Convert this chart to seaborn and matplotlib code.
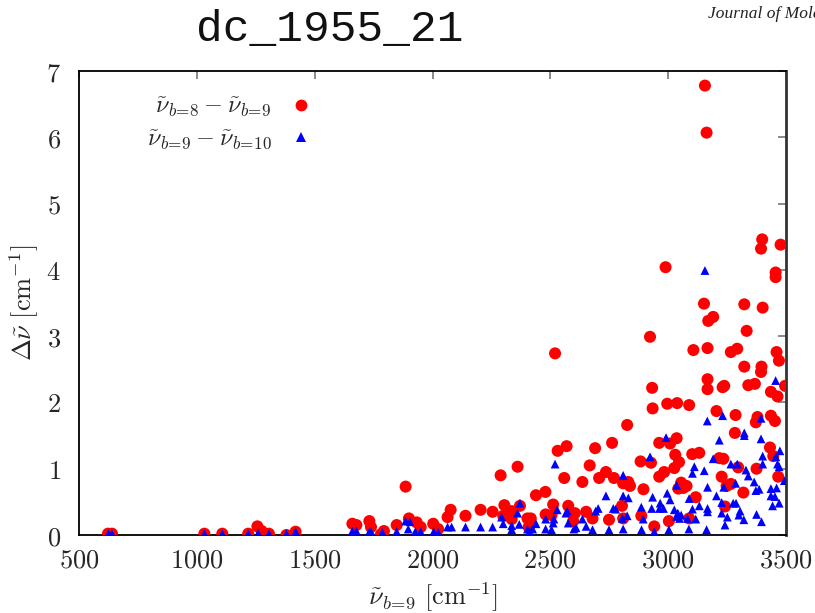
import numpy as np
import pandas as pd
import matplotlib
matplotlib.use("Agg")
import matplotlib.pyplot as plt
import seaborn as sns
from matplotlib.ticker import FuncFormatter
from matplotlib.lines import Line2D

# ---- data ----
red_x = [623, 640, 1032, 1108, 1218, 1257, 1275, 1306, 1380, 1419,
         1660, 1677, 1732, 1739, 1781, 1794, 1848, 1886, 1900, 1933, 1950, 2003, 2024, 2064, 2077,
         2140, 2204, 2255, 2289,
         2300, 2336, 2336, 2361, 2371, 2305, 2403, 2417, 2413, 2408, 2439, 2479, 2480, 2505, 2512,
         2520, 2531, 2559, 2569, 2576, 2597, 2604, 2636, 2652, 2667, 2679, 2690, 2707, 2736, 2749,
         2762, 2770, 2804, 2809, 2809, 2826, 2831, 2838, 2883, 2886, 2895, 2923, 2927, 2932, 2934,
         2941, 2962, 2962, 2983, 2989, 2996, 3003, 3008, 3026, 3030, 3036, 3038, 3043, 3046, 3055,
         3064, 3078, 3089, 3089, 3102, 3107, 3117, 3132, 3152, 3156, 3163, 3167, 3167, 3167, 3170,
         3191, 3205, 3217, 3227, 3231, 3234, 3238, 3241, 3248, 3266, 3266, 3283, 3286, 3293, 3297,
         3319, 3323, 3323, 3333, 3340, 3368, 3372, 3375, 3379, 3394, 3396, 3394, 3399, 3401, 3432,
         3436, 3436, 3446, 3453, 3456, 3456, 3460, 3464, 3467, 3470, 3477, 3496]
red_y = [0.02, 0.02, 0.02, 0.02, 0.02, 0.13, 0.06, 0.02, 0.0, 0.05,
         0.17, 0.15, 0.21, 0.12, 0.01, 0.06, 0.15, 0.73, 0.25, 0.19, 0.12, 0.17, 0.09, 0.27, 0.38,
         0.29, 0.38, 0.35, 0.9,
         0.29, 0.36, 0.24, 1.03, 0.44, 0.45, 0.25, 0.25, 0.2, 0.12, 0.6, 0.65, 0.31, 0.3, 0.46,
         2.74, 1.27, 0.86, 1.34, 0.44, 0.21, 0.33, 0.8, 0.35, 1.05, 0.25, 1.31, 0.86, 0.95, 0.23,
         1.39, 0.86, 0.44, 0.78, 0.25, 1.66, 0.8, 0.74, 1.11, 0.29, 0.69, 2.99, 1.09, 2.22, 1.91,
         0.13, 1.39, 0.88, 0.95, 4.04, 1.98, 0.21, 1.38, 1.01, 1.21, 1.46, 1.99, 0.7, 1.1, 0.79,
         0.71, 0.74, 1.96, 0.25, 1.22, 2.79, 0.57, 1.24, 3.49, 6.78, 6.07, 2.82, 2.35, 2.2, 3.23,
         3.29, 1.87, 1.16, 0.88, 2.23, 1.15, 2.25, 0.43, 0.74, 2.76, 0.77, 1.54, 1.81, 2.81, 1.02,
         0.64, 3.48, 2.54, 3.08, 2.26, 2.28, 1.7, 1.0, 1.78, 4.32, 2.54, 2.46, 4.46, 3.43, 1.32,
         2.16, 1.8, 1.19, 1.72, 3.96, 3.89, 2.76, 2.09, 0.88, 2.63, 4.38, 2.25]

blue_x = [625, 640, 1032, 1108, 1218, 1260, 1306, 1380, 1419,
          1660, 1677, 1732, 1739, 1787, 1848, 1886, 1904, 1897, 1927, 1950, 2005, 2024, 2064, 2081,
          2140, 2204, 2255,
          2293, 2300, 2336, 2336, 2361, 2368, 2371, 2403, 2411, 2425, 2439, 2480, 2480, 2505, 2512,
          2515, 2520, 2529, 2566, 2572, 2576, 2600, 2609, 2636, 2652, 2679, 2692, 2703, 2736, 2749,
          2767, 2777, 2805, 2809, 2809, 2809, 2826, 2831, 2886, 2894, 2887, 2923, 2934, 2930, 2941,
          2963, 2966, 2980, 2991, 2996, 3003, 3008, 3026, 3036, 3036, 3041, 3048, 3055, 3082, 3088,
          3089, 3103, 3103, 3111, 3117, 3132, 3153, 3156, 3163, 3166, 3167, 3167, 3167, 3191, 3205,
          3217, 3227, 3227, 3231, 3236, 3241, 3251, 3266, 3276, 3286, 3288, 3293, 3300, 3305, 3321,
          3323, 3323, 3330, 3340, 3365, 3372, 3375, 3386, 3394, 3394, 3396, 3401, 3401, 3436, 3436,
          3443, 3453, 3456, 3457, 3460, 3464, 3471, 3471, 3474, 3493]
blue_y = [0.02, 0.02, 0.02, 0.02, 0.02, 0.03, 0.02, 0.02, 0.05,
          0.06, 0.06, 0.05, 0.05, 0.04, 0.05, 0.21, 0.2, 0.09, 0.05, 0.05, 0.05, 0.04, 0.12, 0.12,
          0.12, 0.12, 0.12,
          0.27, 0.17, 0.14, 0.08, 0.33, 0.16, 0.48, 0.09, 0.06, 0.09, 0.17, 0.24, 0.09, 0.08, 0.18,
          0.24, 1.07, 0.38, 0.33, 0.36, 0.18, 0.09, 0.11, 0.24, 0.13, 0.08, 0.36, 0.4, 0.59, 0.08,
          0.4, 0.39, 0.25, 0.9, 0.59, 0.09, 0.29, 0.56, 0.42, 0.24, 0.08, 1.18, 0.57, 0.4, 0.05,
          0.4, 0.48, 0.4, 1.47, 0.63, 0.08, 0.53, 0.38, 0.75, 0.28, 0.33, 0.25, 0.3, 0.25, 0.09,
          0.55, 0.93, 0.39, 1.03, 0.24, 0.44, 0.97, 3.99, 0.08, 1.72, 0.72, 0.4, 0.35, 1.15, 0.59,
          1.43, 0.49, 0.33, 1.8, 0.72, 0.15, 0.27, 1.07, 0.48, 0.78, 0.48, 1.07, 0.3, 0.36, 0.23,
          1.54, 1.5, 0.98, 0.89, 0.8, 0.67, 0.31, 0.69, 1.76, 1.45, 0.2, 1.19, 1.07, 0.7, 0.59,
          0.44, 0.58, 2.33, 1.18, 0.71, 1.07, 1.03, 0.48, 1.27, 0.82]

label_red = r'$\tilde{\nu}_{b\!=\!8} - \tilde{\nu}_{b\!=\!9}$'
label_blue = r'$\tilde{\nu}_{b\!=\!9} - \tilde{\nu}_{b\!=\!10}$'
x_ticks = [500, 1000, 1500, 2000, 2500, 3000, 3500]
y_ticks = [0, 1, 2, 3, 4, 5, 6, 7]
title_text = "dc_1955_21"
corner_text = "Journal of Molecular Spectroscopy"

df_red = pd.DataFrame({"x": red_x, "y": red_y})
df_blue = pd.DataFrame({"x": blue_x, "y": blue_y})

sns.set_style("white")
plt.rcParams["mathtext.fontset"] = "cm"
plt.rcParams["font.family"] = ["DejaVu Serif"]

fig = plt.figure(figsize=(8.15, 6.13), dpi=100)
ax = fig.add_axes([79 / 815, 1 - 535 / 613, (786 - 79) / 815, (535 - 71) / 613])

sns.scatterplot(data=df_red, x="x", y="y", ax=ax, color="#ff0000", marker="o",
                s=75, edgecolor="none", linewidth=0, legend=False, zorder=3)
sns.scatterplot(data=df_blue, x="x", y="y", ax=ax, color="#0000ff", marker="^",
                s=40, edgecolor="none", linewidth=0, legend=False, zorder=4)

ax.set_xlim(500, 3500)
ax.set_ylim(0, 7)
ax.set_xticks(x_ticks)
ax.set_yticks(y_ticks)
fmt = FuncFormatter(lambda v, p: r'$%d$' % int(round(v)))
ax.xaxis.set_major_formatter(fmt)
ax.yaxis.set_major_formatter(fmt)
ax.tick_params(axis="both", which="major", direction="in", length=6, width=1.2,
               color="#777777", labelsize=19, top=True, right=True)
ax.tick_params(axis="x", pad=9)
ax.tick_params(axis="y", pad=13)
for side, sp in ax.spines.items():
    sp.set_visible(True)
    sp.set_color("black")
    sp.set_linewidth(1.3)
ax.spines["right"].set_color("#333333")
ax.spines["right"].set_linewidth(2.0)

ax.set_xlabel(r'$\tilde{\nu}_{b\!=\!9}\ [\mathrm{cm}^{-1}]$', fontsize=19, labelpad=6)
ax.set_ylabel(r'$\Delta\tilde{\nu}\ [\mathrm{cm}^{-1}]$', fontsize=19, labelpad=4)

handles = [Line2D([], [], linestyle="none", marker="o", color="#ff0000", markersize=8.5,
                  markeredgewidth=0),
           Line2D([], [], linestyle="none", marker="^", color="#0000ff", markersize=6.5,
                  markeredgewidth=0)]
leg = ax.legend(handles, [label_red, label_blue], loc="upper left",
                bbox_to_anchor=(0.065, 0.995), markerfirst=False, frameon=False,
                fontsize=17.5, handlelength=1.0, handletextpad=0.7, labelspacing=0.35)
for t in leg.get_texts():
    t.set_ha("right")

fig.text(330 / 815, 1 - 30 / 613, title_text, family="Liberation Mono",
         fontsize=32, ha="center", va="center", color="#111111")
fig.text(708 / 815, 1 - 14 / 613, corner_text, family="Liberation Serif",
         style="italic", fontsize=12.5, ha="left", va="center", color="#222222")

fig.savefig("out.png", dpi=100)
